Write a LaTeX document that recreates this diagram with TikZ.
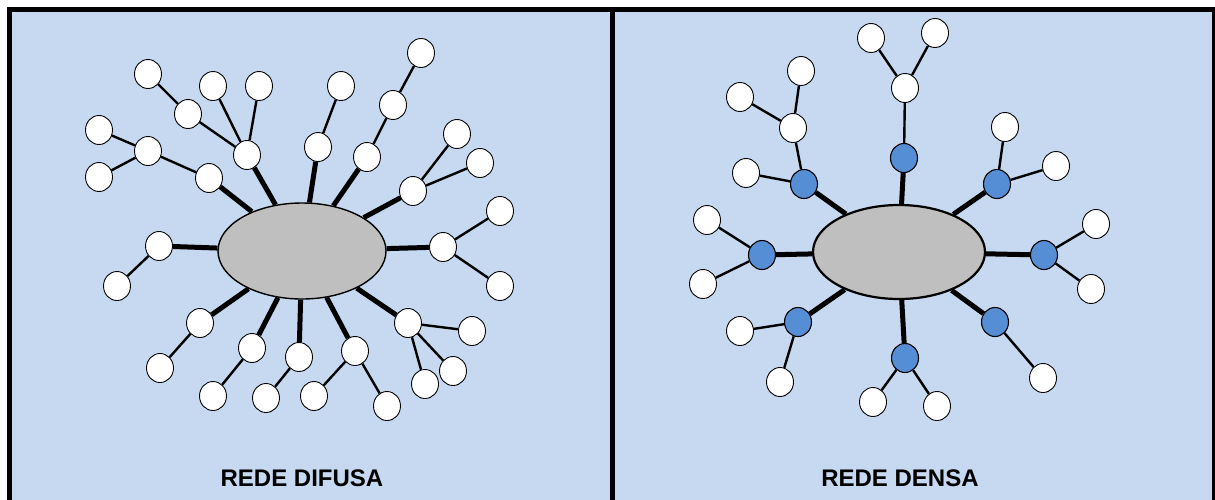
\documentclass[tikz,border=0pt]{standalone}
\usepackage{fontspec}
\setmainfont{Liberation Sans}
\usetikzlibrary{shapes.geometric}
\definecolor{panelblue}{HTML}{C6D9F0}
\definecolor{relayblue}{HTML}{558ED5}
\definecolor{hubgray}{HTML}{BFBFBF}

\begin{document}
\begin{tikzpicture}[x=1pt,y=-1pt,
    leaf/.style={ellipse, draw, line width=0.9pt, fill=white, minimum width=27pt, minimum height=29pt, inner sep=0pt},
    relay/.style={leaf, fill=relayblue, line width=1.1pt},
    hub/.style={ellipse, draw, fill=hubgray, minimum width=168pt, minimum height=96pt},
    trunk/.style={line width=5pt},
    twig/.style={line width=2.4pt},
    caption/.style={font=\fontsize{24}{28}\selectfont\bfseries}]
    \useasboundingbox (0,0) rectangle (1215,499);
    \clip (0,0) rectangle (1215,499);
    % panels
    \draw[fill=panelblue, line width=5pt] (9.5,9.5) rectangle (1214,530);
    \draw[line width=5pt] (612,9.5) -- (612,530);

    % REDE DIFUSA
    \node[hub, line width=1.4pt] (hubA) at (302,251) {};
    \node[leaf] (a1) at (148,74) {};
    \node[leaf] (a2) at (188,114) {};
    \node[leaf] (a3) at (213,86) {};
    \node[leaf] (a4) at (259,86) {};
    \node[leaf] (a5) at (247,155) {};
    \node[leaf] (a6) at (99,130) {};
    \node[leaf] (a7) at (148,151) {};
    \node[leaf] (a8) at (99,177) {};
    \node[leaf] (a9) at (209,178) {};
    \node[leaf] (a10) at (341,86) {};
    \node[leaf] (a11) at (318,147) {};
    \node[leaf] (a12) at (421,53) {};
    \node[leaf] (a13) at (393,105) {};
    \node[leaf] (a14) at (367,157) {};
    \node[leaf] (a15) at (457,134) {};
    \node[leaf] (a16) at (480,163) {};
    \node[leaf] (a17) at (413,191) {};
    \node[leaf] (a18) at (500,211) {};
    \node[leaf] (a19) at (443,247) {};
    \node[leaf] (a20) at (500,286) {};
    \node[leaf] (a21) at (159,246) {};
    \node[leaf] (a22) at (117,286) {};
    \node[leaf] (a23) at (200,323) {};
    \node[leaf] (a24) at (160,368) {};
    \node[leaf] (a25) at (252,348) {};
    \node[leaf] (a26) at (213,396) {};
    \node[leaf] (a27) at (299,357) {};
    \node[leaf] (a28) at (266,398) {};
    \node[leaf] (a29) at (355,351) {};
    \node[leaf] (a30) at (314,396) {};
    \node[leaf] (a31) at (387,406) {};
    \node[leaf] (a32) at (408,323) {};
    \node[leaf] (a33) at (472,331) {};
    \node[leaf] (a34) at (453,371) {};
    \node[leaf] (a35) at (425,384) {};
    \foreach \n in {a5,a9,a11,a14,a17,a19,a21,a23,a25,a27,a29,a32}
        \draw[trunk] (hubA) -- (\n);
    \foreach \u/\v in {a1/a2,a2/a5,a3/a5,a4/a5,a6/a7,a8/a7,a7/a9,a10/a11,a12/a13,a13/a14,
                       a15/a17,a16/a17,a18/a19,a20/a19,a22/a21,a24/a23,a26/a25,a28/a27,
                       a30/a29,a31/a29,a33/a32,a34/a32,a35/a32}
        \draw[twig] (\u) -- (\v);
    \node[caption] (capA) at (302,478) {REDE DIFUSA};

    % REDE DENSA
    \node[hub, line width=2.2pt, minimum width=172pt, minimum height=94pt] (hubB) at (899,252) {};
    \node[relay] (b1) at (904,158) {};
    \node[relay] (b2) at (804,184) {};
    \node[relay] (b3) at (997,184) {};
    \node[relay] (b4) at (762,255) {};
    \node[relay] (b5) at (1044,255) {};
    \node[relay] (b6) at (798,322) {};
    \node[relay] (b7) at (905,358) {};
    \node[relay] (b8) at (995,322) {};
    \node[leaf] (w1) at (905,88) {};
    \node[leaf] (w2) at (871,38) {};
    \node[leaf] (w3) at (935,33) {};
    \node[leaf] (w4) at (793,128) {};
    \node[leaf] (w5) at (746,173) {};
    \node[leaf] (w6) at (801,71) {};
    \node[leaf] (w7) at (740,97) {};
    \node[leaf] (w8) at (1005,127) {};
    \node[leaf] (w9) at (1056,166) {};
    \node[leaf] (w10) at (707,220) {};
    \node[leaf] (w11) at (703,284) {};
    \node[leaf] (w12) at (1096,224) {};
    \node[leaf] (w13) at (1091,289) {};
    \node[leaf] (w14) at (740,331) {};
    \node[leaf] (w15) at (780,382) {};
    \node[leaf] (w16) at (873,402) {};
    \node[leaf] (w17) at (937,406) {};
    \node[leaf] (w18) at (1043,378) {};
    \foreach \n in {b1,b2,b3,b4,b5,b6,b7,b8}
        \draw[trunk] (hubB) -- (\n);
    \foreach \u/\v in {w1/b1,w2/w1,w3/w1,w4/b2,w5/b2,w6/w4,w7/w4,w8/b3,w9/b3,w10/b4,w11/b4,
                       w12/b5,w13/b5,w14/b6,w15/b6,w16/b7,w17/b7,w18/b8}
        \draw[twig] (\u) -- (\v);
    \node[caption] (capB) at (900,478) {REDE DENSA};
\end{tikzpicture}
\end{document}
